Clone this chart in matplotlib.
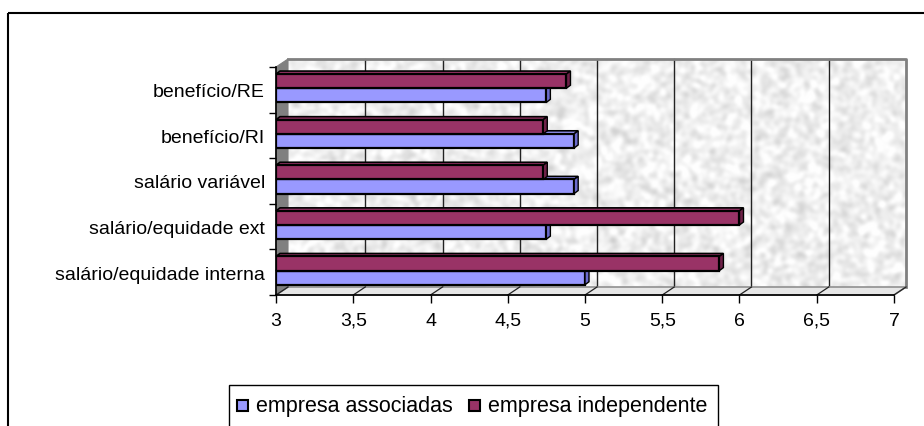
import numpy as np
import matplotlib
matplotlib.use("Agg")
import matplotlib.pyplot as plt
from matplotlib.patches import Polygon, Rectangle
from matplotlib.ticker import FixedLocator

plt.rcParams['font.family'] = ['Liberation Sans', 'DejaVu Sans']

# ---- data -------------------------------------------------------------
categories = ["salário/equidade interna", "salário/equidade ext",
              "salário variável", "benefício/RI", "benefício/RE"]
associadas = [5.00, 4.75, 4.93, 4.93, 4.75]
independente = [5.87, 6.00, 4.73, 4.73, 4.88]
series_names = ["empresa associadas", "empresa independente"]
xticks = [3, 3.5, 4, 4.5, 5, 5.5, 6, 6.5, 7]
xtick_labels = ["3", "3,5", "4", "4,5", "5", "5,5", "6", "6,5", "7"]

c_blue, c_blue_side = "#9999FF", "#6B6BCC"
c_red, c_red_side = "#993366", "#6E2148"
FS = 14

W, H = 924, 427
fig = plt.figure(figsize=(W / 100, H / 100), dpi=100)

# front plane of the 3-D plot box, in figure pixels
fx0, fx1, fy_top, fy_bot = 276, 894, 68, 296
ax = fig.add_axes([fx0 / W, 1 - fy_bot / H, (fx1 - fx0) / W, (fy_bot - fy_top) / H])
xmin, xmax = 3, 7
ax.set_xlim(xmin, xmax)
ax.set_ylim(-0.5, len(categories) - 0.5)

px_x = (fx1 - fx0) / (xmax - xmin)        # pixels per x unit
px_y = (fy_bot - fy_top) / len(categories)  # pixels per category
# depth offset of the back wall (12 px right, 8 px up)
ox, oy = 12 / px_x, 8 / px_y
y0, y1 = -0.5, len(categories) - 0.5

# textured back wall
rng = np.random.default_rng(7)
th, tw = 160, 420
noise = rng.random((th, tw))
fy = np.fft.fftfreq(th)[:, None]
fxq = np.fft.fftfreq(tw)[None, :]
kernel = np.exp(-(fy ** 2 + fxq ** 2) * 2 * (np.pi * 1.6) ** 2)
tex = np.real(np.fft.ifft2(np.fft.fft2(noise) * kernel))
tex = (tex - tex.min()) / (tex.max() - tex.min())
tex = np.clip(0.81 + 0.26 * tex, 0, 1)
ax.imshow(tex, cmap="gray", vmin=0, vmax=1, aspect="auto",
          extent=(xmin + ox, xmax + ox, y0 + oy, y1 + oy),
          interpolation="bicubic", zorder=0, clip_on=False)

# gridlines on the back wall
for xv in xticks[1:-1]:
    ax.plot([xv + ox, xv + ox], [y0 + oy, y1 + oy], color="#222222",
            lw=1.0, zorder=0.5, clip_on=False)
# back wall outline (top and right)
ax.plot([xmin + ox, xmax + ox, xmax + ox], [y1 + oy, y1 + oy, y0 + oy],
        color="#808080", lw=2.0, zorder=0.5, clip_on=False)

# floor
floor = Polygon([(xmin, y0), (xmax, y0), (xmax + ox, y0 + oy), (xmin + ox, y0 + oy)],
                closed=True, facecolor="#E6E6E6", edgecolor="#909090", lw=1.2,
                zorder=0.6, clip_on=False)
ax.add_patch(floor)
for xv in xticks:
    ax.plot([xv, xv + ox], [y0, y0 + oy], color="#222222", lw=0.9,
            zorder=0.7, clip_on=False)

# left side wall
side = Polygon([(xmin, y0), (xmin, y1), (xmin + ox, y1 + oy), (xmin + ox, y0 + oy)],
               closed=True, facecolor="#808080", edgecolor="#808080", lw=0.8,
               zorder=0.6, clip_on=False)
ax.add_patch(side)

# ---- bars --------------------------------------------------------------
ypos = np.arange(len(categories))
bh = 0.31
dx, dy = 4 / px_x, 3 / px_y
off_blue, off_red = -0.12, 0.19


def bar3d(values, offset, face, side_col, z):
    yc = ypos + offset
    ax.barh(yc, np.array(values) - xmin, left=xmin, height=bh, color=face,
            edgecolor="black", linewidth=1.6, zorder=z)
    for v, y in zip(values, yc):
        yt, yb = y + bh / 2, y - bh / 2
        top = Polygon([(xmin, yt), (v, yt), (v + dx, yt + dy), (xmin + dx, yt + dy)],
                      closed=True, facecolor=face, edgecolor="black", lw=1.2,
                      zorder=z - 0.05, clip_on=False)
        right = Polygon([(v, yb), (v, yt), (v + dx, yt + dy), (v + dx, yb + dy)],
                        closed=True, facecolor=side_col, edgecolor="black", lw=1.0,
                        zorder=z + 0.05, clip_on=False)
        ax.add_patch(top)
        ax.add_patch(right)


bar3d(associadas, off_blue, c_blue, c_blue_side, 2)
bar3d(independente, off_red, c_red, c_red_side, 3)

# ---- axes ----------------------------------------------------------------
for s in ("top", "right"):
    ax.spines[s].set_visible(False)
ax.spines["left"].set_color("black")
ax.spines["left"].set_linewidth(1.2)
ax.spines["bottom"].set_color("black")
ax.spines["bottom"].set_linewidth(1.2)
ax.spines["left"].set_zorder(4)
ax.patch.set_visible(False)

ax.set_xticks(xticks)
ax.set_xticklabels(xtick_labels, fontsize=FS)
ax.tick_params(axis="x", direction="out", length=6, width=1, pad=6, colors="black")

ax.yaxis.set_major_locator(FixedLocator(np.arange(-0.5, len(categories), 1.0)))
ax.set_yticklabels([])
ax.yaxis.set_minor_locator(FixedLocator(ypos))
ax.set_yticklabels(categories, minor=True, fontsize=FS)
ax.tick_params(axis="y", which="major", direction="out", length=5, width=1)
ax.tick_params(axis="y", which="minor", length=0, pad=8)

# ---- legend and chart frame ---------------------------------------------
ov = fig.add_axes([0, 0, 1, 1], zorder=-1)
ov.set_xlim(0, W)
ov.set_ylim(H, 0)
ov.axis("off")
ov.add_patch(Rectangle((8, 14), W + 20, H + 20, fill=False, edgecolor="black", lw=1.5))

lg = fig.add_axes([0, 0, 1, 1], zorder=5)
lg.set_xlim(0, W)
lg.set_ylim(H, 0)
lg.axis("off")
lg.add_patch(Rectangle((229, 386), 489, 60, facecolor="white", edgecolor="black",
                       lw=1.0, clip_on=False))
legend_x = [237, 469]
for (xl, name, col) in zip(legend_x, series_names, [c_blue, c_red]):
    lg.add_patch(Rectangle((xl, 401), 11, 11, facecolor=col, edgecolor="black", lw=1.5))
    lg.text(xl + 19, 407, name, fontsize=15.5, va="center", ha="left")

fig.savefig("out.png", dpi=100)
